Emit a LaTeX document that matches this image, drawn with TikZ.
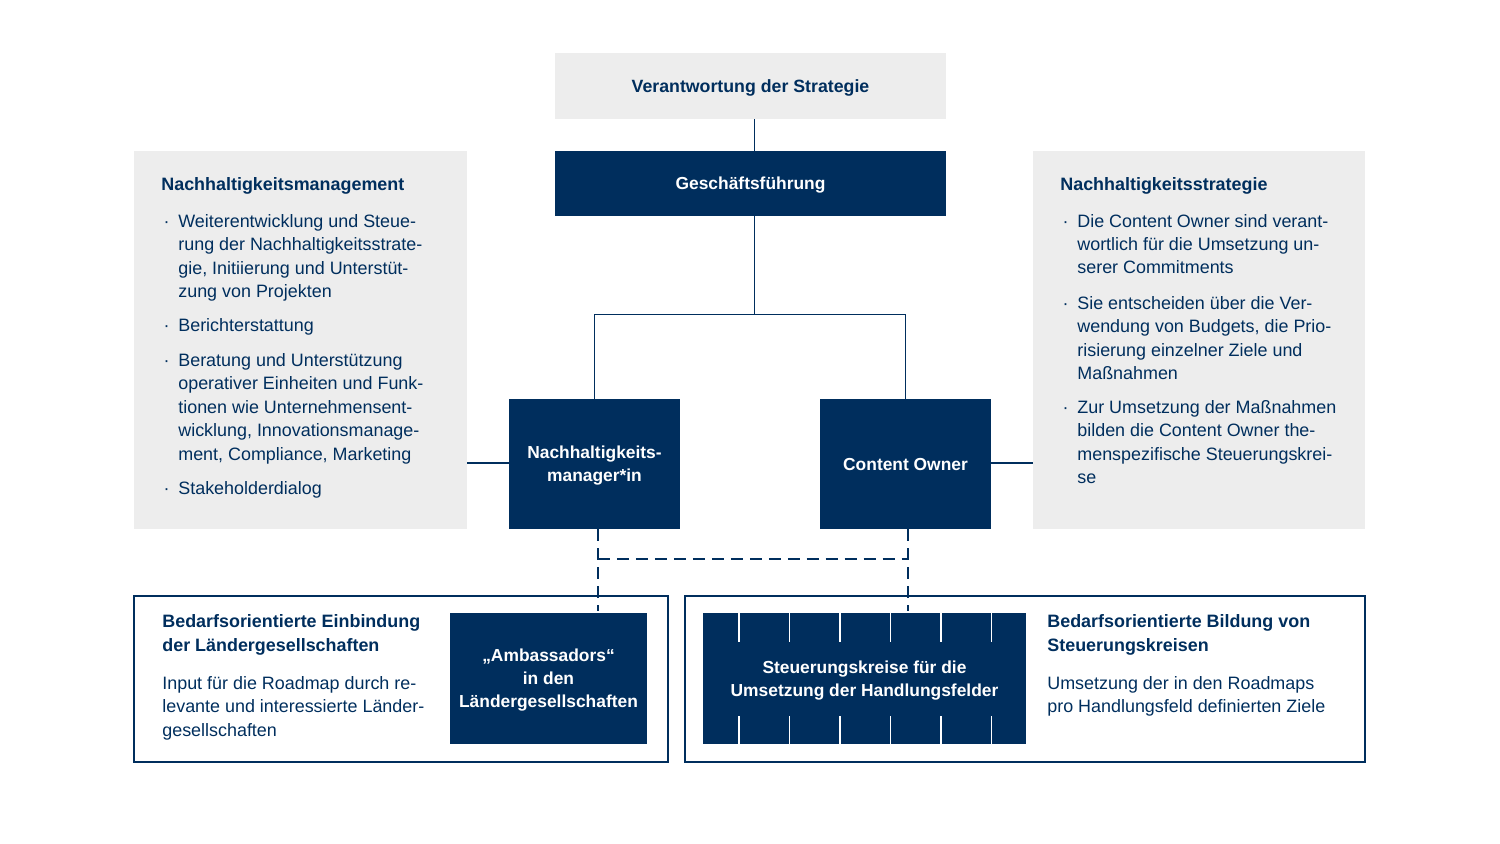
\documentclass[tikz,border=0pt]{standalone}
\usepackage{fontspec}
\setmainfont{Liberation Sans}
\usetikzlibrary{positioning}
\definecolor{navy}{RGB}{0,46,93}
\definecolor{lightgray}{RGB}{237,237,237}
\def\u{0.02cm}
\newcommand\bul{\llap{\textperiodcentered\hspace{5pt}}}

\begin{document}
\begin{tikzpicture}[x=\u,y=-\u,
  box/.style={inner sep=0pt,align=center,text depth=0pt,font=\bfseries\fontsize{9.9}{13}\selectfont},
  navybox/.style={box,fill=navy,text=white},
  graybox/.style={box,fill=lightgray,text=navy},
  framebox/.style={draw=navy,line width=1.1pt,inner sep=0pt},
  txt/.style={inner sep=0pt,anchor=base west,align=left,text=navy,font=\fontsize{10.2}{13.3}\selectfont},
  head/.style={txt,font=\bfseries\fontsize{10.2}{13.3}\selectfont},
  conn/.style={draw=navy,line width=0.85pt},
  dashconn/.style={draw=navy,line width=1.1pt,dash pattern=on 6.8pt off 4pt}]
\useasboundingbox (0,0) rectangle (1500,844);

% boxes
\node[graybox,font=\bfseries\fontsize{10.1}{13}\selectfont,minimum width=391*\u,minimum height=66*\u] (resp) at (750.5,86) {Verantwortung der Strategie};
\node[navybox,minimum width=391*\u,minimum height=65*\u] (gf) at (750.5,183.5) {Gesch\"aftsf\"uhrung};
\node[navybox,minimum width=171*\u,minimum height=130*\u] (nhm) at (594.5,464) {Nachhaltigkeits-\\manager*in};
\node[navybox,minimum width=171*\u,minimum height=130*\u] (co) at (905.5,464) {Content Owner};
\node[graybox,minimum width=333*\u,minimum height=378*\u] (mgmt) at (300.5,340) {};
\node[graybox,minimum width=332*\u,minimum height=378*\u] (strat) at (1199,340) {};
\node[framebox,minimum width=534*\u,minimum height=166*\u] (einb) at (401,679) {};
\node[framebox,minimum width=680*\u,minimum height=166*\u] (bild) at (1025,679) {};
\node[navybox,minimum width=197*\u,minimum height=131*\u] (amb) at (548.5,678.5) {„Ambassadors“\\in den\\L\"andergesellschaften};
\node[navybox,minimum width=323*\u,minimum height=131*\u] (stk) at (864.5,678.5) {Steuerungskreise f\"ur die\\Umsetzung der Handlungsfelder};
\foreach \x in {739,789.5,840,890.5,941,991.5} {
  \draw[white,line width=1.1pt] (\x,613) -- (\x,642);
  \draw[white,line width=1.1pt] (\x,716) -- (\x,744);
}

% connectors
\draw[conn] ([xshift=4*\u]resp.south) -- ([xshift=4*\u]gf.north);
\draw[conn] ([xshift=4*\u]gf.south) -- ++(0,98) coordinate (split) -| (nhm.north);
\draw[conn] (split) -| (co.north);
\draw[conn] ([yshift=1*\u]nhm.west) -- ([yshift=1*\u]nhm.west -| mgmt.east);
\draw[conn] ([yshift=1*\u]co.east) -- ([yshift=1*\u]co.east -| strat.west);
\draw[dashconn] ([xshift=3.5*\u]nhm.south) -- ([xshift=3.5*\u,yshift=2*\u]nhm.south |- amb.north);
\draw[dashconn] ([xshift=2.5*\u]co.south) -- ([xshift=2.5*\u,yshift=2*\u]co.south |- stk.north);
\draw[dashconn] ([xshift=3.5*\u,yshift=-30*\u]nhm.south) -- ([xshift=2.5*\u,yshift=-30*\u]co.south);

% left text
\node[head] (mgmt-h) at (161,190.5) {Nachhaltigkeitsmanagement};
\node[txt] (mgmt-1) at (178,297.5) {\bul Weiterentwicklung und Steue-\\rung der Nachhaltigkeitsstrate-\\gie, Initiierung und Unterst\"ut-\\zung von Projekten};
\node[txt] (mgmt-2) at (178,332) {\bul Berichterstattung};
\node[txt] (mgmt-3) at (178,460) {\bul Beratung und Unterst\"utzung\\operativer Einheiten und Funk-\\tionen wie Unternehmensent-\\wicklung, Innovationsmanage-\\ment, Compliance, Marketing};
\node[txt] (mgmt-4) at (178,494) {\bul Stakeholderdialog};

% right text
\node[head] (strat-h) at (1060,190.5) {Nachhaltigkeitsstrategie};
\node[txt] (strat-1) at (1077,274) {\bul Die Content Owner sind verant-\\wortlich f\"ur die Umsetzung un-\\serer Commitments};
\node[txt] (strat-2) at (1077,379.5) {\bul Sie entscheiden \"uber die Ver-\\wendung von Budgets, die Prio-\\risierung einzelner Ziele und\\Ma\ss nahmen};
\node[txt] (strat-3) at (1077,483.5) {\bul Zur Umsetzung der Ma\ss nahmen\\bilden die Content Owner the-\\menspezifische Steuerungskrei-\\se};

% bottom text
\node[head] (einb-h) at (162,651) {Bedarfsorientierte Einbindung\\der L\"andergesellschaften};
\node[txt] (einb-t) at (162,736) {Input f\"ur die Roadmap durch re-\\levante und interessierte L\"ander-\\gesellschaften};
\node[head] (bild-h) at (1047,651) {Bedarfsorientierte Bildung von\\Steuerungskreisen};
\node[txt] (bild-t) at (1047,712.5) {Umsetzung der in den Roadmaps\\pro Handlungsfeld definierten Ziele};
\end{tikzpicture}
\end{document}
